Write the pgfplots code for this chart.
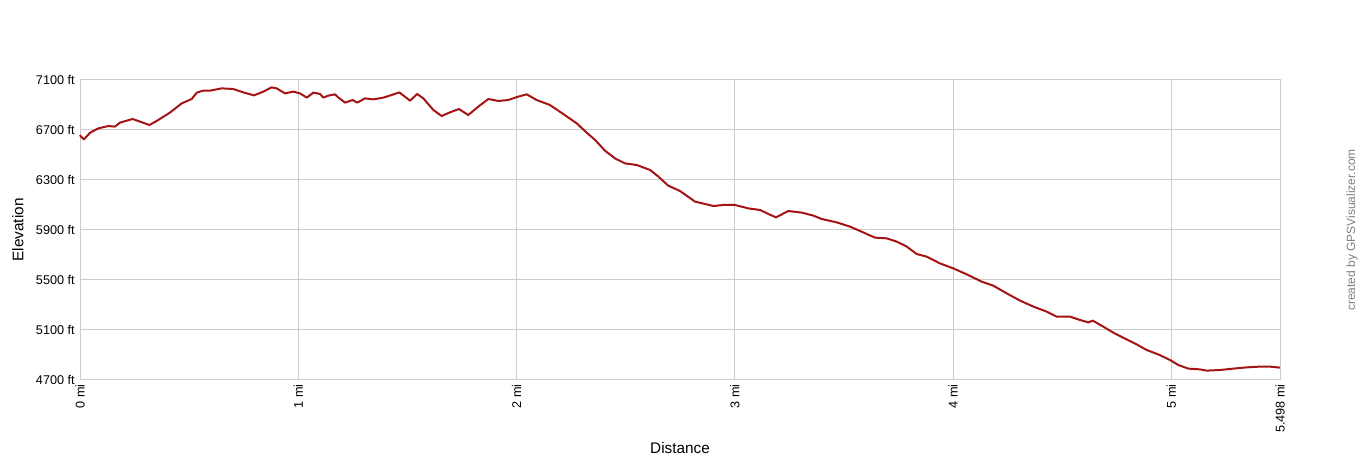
\documentclass[border=0pt]{standalone}
\usepackage{fontspec}
\setmainfont{Liberation Sans}
\usepackage{pgfplots}
\pgfplotsset{compat=1.18}
\definecolor{trail}{RGB}{165,20,20}
\definecolor{gridgray}{RGB}{204,204,204}
\definecolor{credit}{RGB}{128,128,128}

% elevation profile: distance (mi), elevation (ft)
\pgfplotstableread{
d      e
0.000  6660
0.005  6646
0.018  6625
0.046  6678
0.084  6713
0.130  6732
0.160  6727
0.183  6759
0.241  6788
0.275  6767
0.318  6740
0.351  6772
0.412  6839
0.466  6913
0.512  6948
0.535  6999
0.565  7015
0.596  7015
0.649  7033
0.702  7028
0.748  7001
0.797  6977
0.840  7007
0.878  7041
0.901  7033
0.939  6993
0.977  7007
1.008  6993
1.039  6959
1.069  6999
1.100  6988
1.115  6959
1.138  6975
1.168  6985
1.183  6961
1.214  6919
1.249  6940
1.270  6919
1.306  6953
1.344  6945
1.390  6959
1.428  6980
1.463  7001
1.512  6935
1.545  6988
1.573  6953
1.619  6860
1.657  6812
1.695  6841
1.736  6868
1.779  6820
1.825  6887
1.871  6948
1.917  6932
1.962  6940
2.008  6967
2.047  6985
2.092  6940
2.153  6900
2.214  6828
2.276  6753
2.322  6678
2.360  6620
2.405  6535
2.451  6473
2.497  6433
2.551  6420
2.612  6380
2.650  6327
2.695  6255
2.749  6212
2.818  6127
2.902  6092
2.947  6100
3.001  6100
3.062  6073
3.116  6060
3.154  6028
3.189  6001
3.245  6052
3.307  6039
3.360  6015
3.398  5988
3.467  5961
3.528  5927
3.574  5892
3.642  5839
3.696  5833
3.742  5807
3.788  5767
3.833  5708
3.879  5687
3.940  5633
4.001  5593
4.063  5545
4.131  5487
4.184  5455
4.246  5393
4.307  5335
4.368  5287
4.429  5247
4.475  5207
4.536  5207
4.582  5180
4.620  5161
4.640  5175
4.688  5127
4.734  5079
4.795  5025
4.841  4985
4.887  4940
4.940  4905
4.994  4860
5.032  4820
5.078  4791
5.131  4785
5.162  4775
5.223  4780
5.284  4791
5.345  4801
5.406  4807
5.452  4807
5.498  4799
}\profile

\begin{document}
\begin{tikzpicture}
\path[use as bounding box] (-60pt,-60pt) rectangle (960pt,285pt);
\begin{axis}[
	scale only axis,
	width=900pt,
	height=225pt,
	xmin=0, xmax=5.498,
	ymin=4700, ymax=7100,
	xtick={0,1,2,3,4,5,5.498},
	xticklabels={0 mi,1 mi,2 mi,3 mi,4 mi,5 mi,5.498 mi},
	ytick={4700,5100,5500,5900,6300,6700,7100},
	yticklabels={4700 ft,5100 ft,5500 ft,5900 ft,6300 ft,6700 ft,7100 ft},
	xticklabel style={rotate=90, anchor=east, inner sep=3pt, font=\fontsize{9.5}{11}\selectfont},
	yticklabel style={anchor=east, inner sep=3.75pt, font=\fontsize{9.5}{11}\selectfont},
	grid=major,
	major grid style={gridgray, line width=0.75pt},
	axis line style={gridgray, line width=0.75pt},
	tick style={draw=none},
	xlabel={Distance},
	ylabel={Elevation},
	xlabel style={at={(axis description cs:0.5,-0.2267)}, anchor=center, font=\fontsize{11.5}{13}\selectfont},
	ylabel style={at={(axis description cs:-0.0517,0.5)}, anchor=center, rotate=0, font=\fontsize{11.5}{13}\selectfont},
	clip=false,
]
\addplot[trail, line width=1.5pt, line join=round] table[x=d, y=e] {\profile};
\node[rotate=90, anchor=center, text=credit, font=\fontsize{9}{11}\selectfont]
	at (axis description cs:1.06,0.5) {created by GPSVisualizer.com};
\end{axis}
\end{tikzpicture}
\end{document}
